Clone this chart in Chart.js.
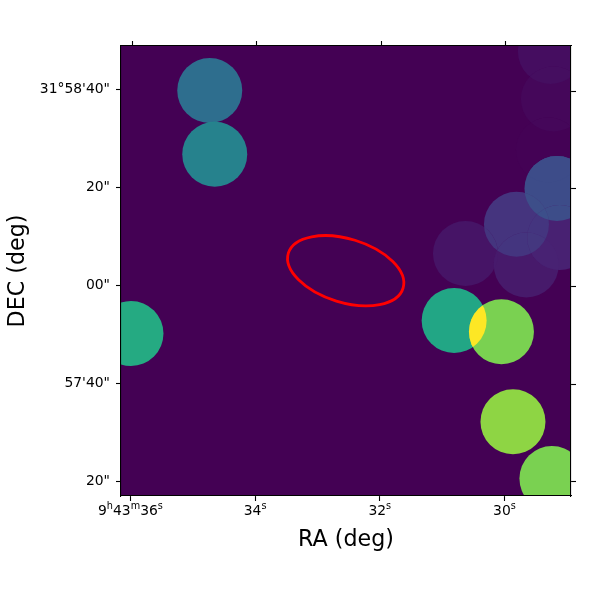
<!DOCTYPE html>
<html>
<head>
<meta charset="utf-8">
<script src="https://cdn.jsdelivr.net/npm/chart.js@4"></script>
<style>
  body { margin: 0; background: #fff; }
  canvas { display: block; }
</style>
</head>
<body>
<canvas id="chart" width="600" height="600"></canvas>
<script>
// sources: RA seconds (9h43m + s), DEC arcsec from 31d58'00", image value 0-1
const srcRa = [34.728, 34.648, 35.992, 30.807, 30.048, 29.863, 29.238, 29.262, 29.214, 29.294, 29.157, 29.807, 30.625, 29.650, 29.112];
const srcDec = [39.78, 26.76, -9.87, -7.23, -9.52, -27.89, -39.49, 47.74, 38.04, 27.62, 19.75, 12.44, 6.48, 4.13, 9.74];
const srcValue = [0.36, 0.44, 0.61, 0.59, 0.80, 0.83, 0.80, 0.035, 0.018, 0.004, 0.23, 0.15, 0.055, 0.07, 0.09];

const xTickValues = [36, 34, 32, 30];
const xTickLabels = ["9h43m36s", "34s", "32s", "30s"];
const yTickValues = [40, 20, 0, -20, -40];
const yTickLabels = ["31°58'40\"", "20\"", "00\"", "57'40\"", "20\""];

// red aperture: centre in same units, semi axes in arcsec, angle in degrees
const ellipseRa = 32.547;
const ellipseDec = 2.96;
const ellipseA = 12.25;
const ellipseB = 6.5;
const ellipseAngle = 17;

const viridisStops = ["#440154", "#482475", "#414487", "#355f8d", "#2a788e", "#21918c", "#22a884", "#44bf70", "#7ad151", "#bddf26", "#fde725"];

function hexToRgb(h) {
  return [1, 3, 5].map(i => parseInt(h.slice(i, i + 2), 16));
}

function viridis(v) {
  const t = Math.min(Math.max(v, 0), 1) * (viridisStops.length - 1);
  const i = Math.min(Math.floor(t), viridisStops.length - 2);
  const a = hexToRgb(viridisStops[i]);
  const b = hexToRgb(viridisStops[i + 1]);
  const c = a.map((p, k) => Math.round(p + (b[k] - p) * (t - i)));
  return `rgb(${c[0]},${c[1]},${c[2]})`;
}

const RADIUS = 32.5;

// bright pairs saturate, faint ones barely change where they overlap
function overlapValue(ids) {
  const vals = ids.map(i => srcValue[i]).sort((a, b) => b - a);
  const rest = vals.slice(1).reduce((s, v) => s + v, 0);
  return vals[1] > 0.5 ? vals[0] + rest : vals[0] + rest * 0.05;
}

function fillOverlap(ctx, pts, ids) {
  ctx.save();
  ids.forEach(i => {
    ctx.beginPath();
    ctx.arc(pts[i].x, pts[i].y, RADIUS, 0, Math.PI * 2);
    ctx.clip();
  });
  ctx.fillStyle = viridis(overlapValue(ids));
  ctx.fillRect(0, 0, 600, 600);
  ctx.restore();
}

const tickFont = { family: "DejaVu Sans", size: 13.9 };
const titleFont = { family: "DejaVu Sans", size: 22.2 };

// bottom labels have smaller raised unit letters, so they are laid out by hand
function drawRaLabel(ctx, text, cx, y) {
  const parts = text.match(/\d+|[a-z]/g);
  const fontOf = p => `${/\d/.test(p) ? tickFont.size : tickFont.size * 0.7}px "${tickFont.family}"`;
  const width = parts.reduce((w, p) => {
    ctx.font = fontOf(p);
    return w + ctx.measureText(p).width;
  }, 0);
  let x = cx - width / 2;
  ctx.textAlign = "left";
  ctx.textBaseline = "alphabetic";
  ctx.fillStyle = "#000";
  parts.forEach(p => {
    ctx.font = fontOf(p);
    ctx.fillText(p, x, /\d/.test(p) ? y : y - 5.5);
    x += ctx.measureText(p).width;
  });
}

const imagePlugin = {
  id: "imagePlugin",
  beforeDatasetsDraw(chart) {
    const { ctx, chartArea: a } = chart;
    ctx.save();
    ctx.fillStyle = viridis(0);
    ctx.fillRect(a.left, a.top, a.width, a.height);
    ctx.restore();
  },
  afterDatasetsDraw(chart) {
    const { ctx, chartArea: a, scales } = chart;
    const pts = chart.getDatasetMeta(0).data;
    const near = (i, j) => Math.hypot(pts[i].x - pts[j].x, pts[i].y - pts[j].y) < RADIUS * 2;
    ctx.save();
    ctx.beginPath();
    ctx.rect(a.left, a.top, a.width, a.height);
    ctx.clip();
    const n = pts.length;
    for (let i = 0; i < n; i++) {
      for (let j = i + 1; j < n; j++) {
        if (near(i, j)) fillOverlap(ctx, pts, [i, j]);
      }
    }
    for (let i = 0; i < n; i++) {
      for (let j = i + 1; j < n; j++) {
        for (let k = j + 1; k < n; k++) {
          if (near(i, j) && near(i, k) && near(j, k)) fillOverlap(ctx, pts, [i, j, k]);
        }
      }
    }
    // aperture
    const cx = scales.x.getPixelForValue(ellipseRa);
    const cy = scales.y.getPixelForValue(ellipseDec);
    const pxPerArcsec = Math.abs(scales.y.getPixelForValue(1) - scales.y.getPixelForValue(0));
    ctx.beginPath();
    ctx.ellipse(cx, cy, ellipseA * pxPerArcsec, ellipseB * pxPerArcsec, ellipseAngle * Math.PI / 180, 0, Math.PI * 2);
    ctx.strokeStyle = "#ff0000";
    ctx.lineWidth = 2.8;
    ctx.stroke();
    ctx.restore();
  },
  afterDraw(chart) {
    const { ctx, scales } = chart;
    ctx.save();
    xTickValues.forEach((v, i) => {
      drawRaLabel(ctx, xTickLabels[i], scales.x.getPixelForValue(v), 514.5);
    });
    ctx.restore();
  },
};

const frame = { display: true, color: "#000", width: 1.1, z: 1 };
const tickGrid = { drawOnChartArea: false, drawTicks: true, tickLength: 5, tickWidth: 1.1, tickColor: "#000" };

function setTicks(values) {
  return scale => { scale.ticks = values.map(v => ({ value: v })); };
}

function fixSize(key, size) {
  return scale => { scale[key] = size; };
}

new Chart(document.getElementById("chart"), {
  type: "bubble",
  data: {
    datasets: [
      {
        data: srcRa.map((ra, i) => ({ x: ra, y: srcDec[i], r: RADIUS })),
        backgroundColor: srcValue.map(viridis),
        borderWidth: 0,
        hoverRadius: 0,
        clip: 0,
      },
    ],
  },
  options: {
    responsive: false,
    animation: false,
    devicePixelRatio: 1,
    events: [],
    layout: { padding: 0, autoPadding: false },
    plugins: { legend: { display: false }, tooltip: { enabled: false } },
    scales: {
      x: {
        type: "linear",
        position: "bottom",
        reverse: true,
        min: 28.932,
        max: 36.152,
        afterBuildTicks: setTicks(xTickValues),
        afterFit: fixSize("height", 104),
        border: frame,
        grid: tickGrid,
        ticks: { display: false },
        title: { display: true, text: "RA (deg)", color: "#000", font: titleFont, padding: { top: 0, bottom: 46 } },
      },
      xTop: {
        type: "linear",
        position: "top",
        reverse: true,
        min: 28.942,
        max: 36.1884,
        afterBuildTicks: setTicks(xTickValues),
        afterFit: fixSize("height", 46),
        border: frame,
        grid: tickGrid,
        ticks: { display: false },
      },
      y: {
        type: "linear",
        position: "left",
        min: -43.064,
        max: 48.866,
        afterBuildTicks: setTicks(yTickValues),
        afterFit: fixSize("width", 121),
        border: frame,
        grid: tickGrid,
        ticks: {
          autoSkip: false,
          color: "#000",
          font: tickFont,
          padding: 6,
          callback: v => yTickLabels[yTickValues.indexOf(v)],
        },
        title: { display: true, text: "DEC (deg)", color: "#000", font: titleFont, padding: { top: 5, bottom: 0 } },
      },
      yRight: {
        type: "linear",
        position: "right",
        min: -42.875,
        max: 49.255,
        afterBuildTicks: setTicks(yTickValues),
        afterFit: fixSize("width", 29),
        border: frame,
        grid: tickGrid,
        ticks: { display: false },
      },
    },
  },
  plugins: [imagePlugin],
});
</script>
</body>
</html>
